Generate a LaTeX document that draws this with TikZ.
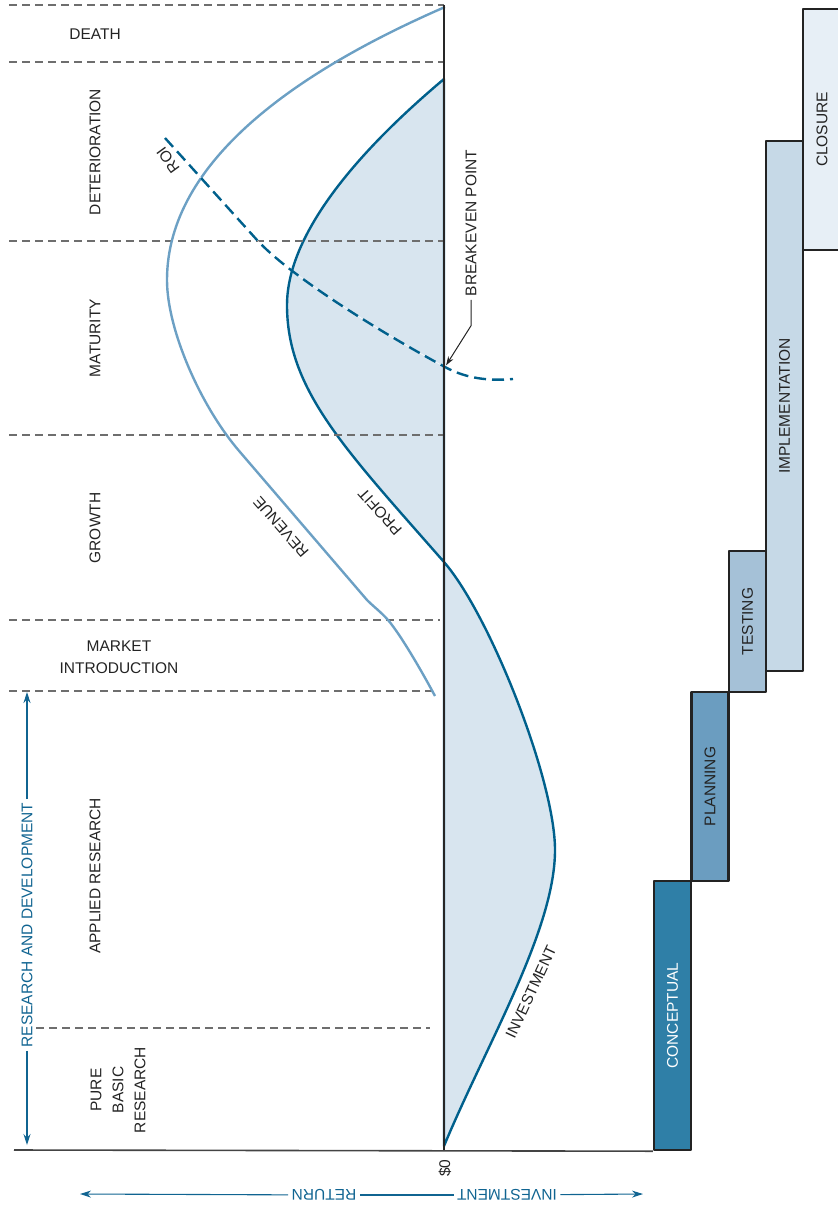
\documentclass[tikz,border=0pt]{standalone}
\usepackage{fontspec}
\setmainfont{Liberation Sans}
\usetikzlibrary{arrows.meta}
\definecolor{profitblue}{RGB}{0,96,140}
\definecolor{revblue}{RGB}{108,160,196}
\definecolor{areablue}{RGB}{216,229,239}
\definecolor{flowblue}{RGB}{16,100,145}
\definecolor{divgray}{RGB}{110,110,110}
\definecolor{inkgray}{RGB}{35,35,35}
\definecolor{conceptfill}{RGB}{47,127,167}
\definecolor{planfill}{RGB}{107,157,192}
\definecolor{testfill}{RGB}{165,193,215}
\definecolor{implfill}{RGB}{198,217,231}
\definecolor{closefill}{RGB}{231,239,246}

\begin{document}
\begin{tikzpicture}[x=1pt, y=-1pt, line join=round, >={Stealth[length=11pt,width=7pt]},
    every node/.style={font=\fontsize{15.5}{22}\selectfont, text=inkgray},
    stage/.style={rotate=90},
    divider/.style={divgray, dash pattern=on 8pt off 5pt, line width=1.3pt},
    phase/.style={draw=inkgray, line width=2.4pt, rotate=90, minimum height=37pt, inner sep=0pt},
    flow/.style={flowblue, line width=1.1pt},
    curvelabel/.style={inner sep=1pt}]
		\useasboundingbox (0,0) rectangle (838,1211);
		% axes
		\coordinate (zero) at (444,1150);
		\coordinate (top) at (444,5);
		
		% profit / investment area
		\draw [profitblue, line width=2.4pt, fill=areablue] (444,1146) .. controls (486,1045) and (555,930) .. (555,850)
			.. controls (555,780) and (490,615) .. (444,562)
			.. controls (345,449) and (287,390) .. (287,305)
			.. controls (287,250) and (330,175) .. (444,79) -- cycle;
		
		% stage dividers
		\foreach \y in {5,62,241,435} \draw [divider] (9,\y) -- (444,\y);
		\draw [divider] (9,620) -- (440,620);
		\draw [divider] (9,691) -- (432,691);
		\draw [divider] (36,1028) -- (430,1028);
		
		% revenue
		\draw [revblue, line width=2.4pt] (435,696) .. controls (420,668) and (400,634) .. (388,620)
			.. controls (381,612) and (374,607) .. (367,600) -- (240,452)
			.. controls (201,407) and (167,330) .. (167,280)
			.. controls (167,160) and (300,70) .. (445,7);
		
		% ROI
		\coordinate (be) at (445,367);
		\draw [profitblue, line width=2.4pt, dash pattern=on 12pt off 6pt, preaction={draw=white, solid}] (165,138) -- (257,240)
			.. controls (290,276) and (380,332) .. (be)
			.. controls (467,379) and (490,381) .. (513,379);
		
		\draw [black!85, line width=2.4pt] (top) -- (zero); % $0 axis
		
		% phases
		\node [phase, fill=conceptfill, minimum width=269pt, text=white] (concept) at (672.5,1015.5) {CONCEPTUAL};
		\node [phase, fill=planfill, minimum width=189pt] (plan) at (710,786.5) {PLANNING};
		\node [phase, fill=testfill, minimum width=141pt] (test) at (747.5,621.5) {TESTING};
		\node [phase, fill=implfill, minimum width=530pt] (impl) at (784.5,406) {IMPLEMENTATION};
		\node [phase, fill=closefill, minimum width=241pt, minimum height=38pt] (close) at (822,129.5) {CLOSURE};
		
		\draw [inkgray!85, line width=1.6pt] (14,1150) -- (concept.north west); % time axis
		\node [stage, anchor=east] (zerolbl) at (445,1156) {\$0};
		
		% stage labels
		\node (death) at (95,34) {DEATH};
		\node [stage] (deter) at (95,152) {DETERIORATION};
		\node [stage] (matur) at (95,338) {MATURITY};
		\node [stage] (growth) at (95,528) {GROWTH};
		\node [align=center] (intro) at (119,657) {MARKET\\INTRODUCTION};
		\node [stage] (applied) at (95,876) {APPLIED RESEARCH};
		\node [stage, align=center] (basic) at (118,1090) {PURE\\BASIC\\RESEARCH};
		
		% curve labels
		\node [curvelabel, rotate=131] (revlbl) at (281,527) {REVENUE};
		\node [curvelabel, rotate=132] (proflbl) at (380,512) {PROFIT};
		\node [curvelabel, rotate=126] (roilbl) at (168,160) {ROI};
		\node [curvelabel, rotate=65] (invlbl) at (531,992) {INVESTMENT};
		
		% breakeven
		\node [stage] (bept) at (471,223) {BREAKEVEN POINT};
		\draw [inkgray, line width=1pt, ->, >={Stealth[length=9pt,width=6pt]}, shorten >=2pt] (bept.west) -- ++(0,26) -- (be);
		
		% research and development
		\coordinate (rndtop) at (27,692);
		\coordinate (rndbot) at (27,1145);
		\node [stage, text=flowblue] (rnd) at (27,925) {RESEARCH AND DEVELOPMENT};
		\draw [flow, ->] (rnd) -- (rndtop);
		\draw [flow, ->] (rnd) -- (rndbot);
		
		% return / investment
		\coordinate (retend) at (80,1194);
		\coordinate (invend) at (643,1194);
		\node [rotate=180, text=flowblue] (ret) at (324,1195) {RETURN};
		\node [rotate=180, text=flowblue] (inv) at (507,1195) {INVESTMENT};
		\draw [flow, ->] (ret) -- (retend);
		\draw [flow] (ret) -- (inv);
		\draw [flow, ->] (inv) -- (invend);
\end{tikzpicture}
\end{document}
